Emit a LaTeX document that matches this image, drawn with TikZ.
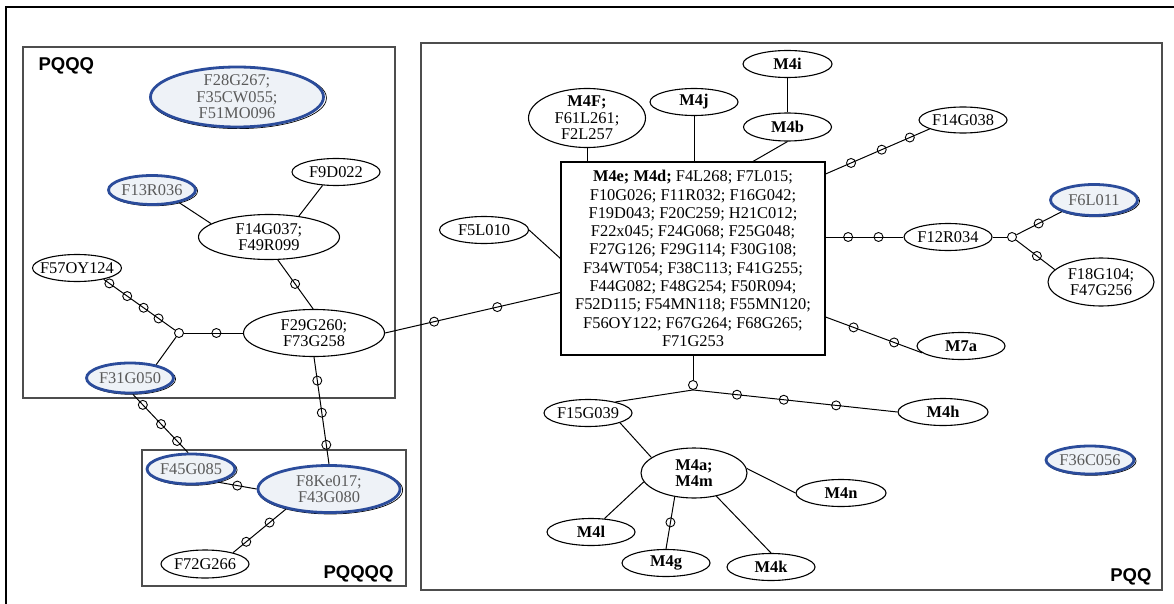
\documentclass[tikz,border=0pt]{standalone}
\usepackage{fontspec}
\setmainfont{Liberation Serif}
\newfontfamily\regionfont{Liberation Sans}
\usetikzlibrary{shapes.geometric,shadows}
\definecolor{hapblue}{HTML}{2B4C9B}
\definecolor{hapfill}{HTML}{EEF2F7}
\definecolor{haptext}{HTML}{5A5A5A}
\definecolor{regiongray}{HTML}{4D4D4D}

\begin{document}
\begin{tikzpicture}[x=1pt,y=-1pt,
    hap/.style={ellipse,draw,line width=1.1pt,inner xsep=-20pt,inner ysep=-10pt,minimum width=88pt,minimum height=27pt,align=center,font=\fontsize{16.4}{16.5}\selectfont},
    mhap/.style={hap,font=\fontsize{16.4}{16.5}\selectfont\bfseries},
    hapb/.style={hap,draw=hapblue,line width=2.8pt,fill=hapfill,text=haptext,drop shadow={fill=none,draw=black,opacity=1,line width=0.7pt,shadow xshift=1.2pt,shadow yshift=-1pt,shadow scale=1.02}},
    mut/.style={circle,draw,line width=0.9pt,minimum size=9pt,inner sep=0pt},
    link/.style={line width=1pt},
    region/.style={draw=regiongray,line width=1.3pt},
    tag/.style={font=\regionfont\fontsize{18.5}{20}\selectfont\bfseries}]
    \useasboundingbox (0,0) rectangle (1174,604);
    \draw[line width=2.4pt] (6,604) -- (6,7) -- (1174,7);
    \draw[region] (23,47) rectangle (395,398);
    \draw[region] (142,450) rectangle (406,586);
    \draw[region] (421,43) rectangle (1162,590);
    \node[tag,anchor=base west] (pqqq) at (35,70.5) {PQQQ};
    \node[tag,anchor=base east] (pqqqq) at (397,578) {PQQQQ};
    \node[tag,anchor=base east] (pqq) at (1155,581) {PQQ};

    \node[hapb,minimum width=173pt,minimum height=60pt] (f28) at (237,97) {F28G267;\\F35CW055;\\F51MO096};
    \node[hapb,minimum width=87pt,minimum height=29pt] (f13) at (152,190) {F13R036};
    \node[hap] (f9) at (336,172) {F9D022};
    \node[hap,minimum width=141pt,minimum height=45pt] (f14) at (269,237) {F14G037;\\F49R099};
    \node[hap,minimum width=89pt] (f57) at (77,268) {F57OY124};
    \node[mut] (j1) at (179,333) {};
    \node[hap,minimum width=141pt,minimum height=47pt] (f29) at (314,333) {F29G260;\\F73G258};
    \node[hapb,minimum width=87pt,minimum height=30pt] (f31) at (130,378) {F31G050};
    \node[hapb,minimum height=30pt] (f45) at (191,469) {F45G085};
    \node[hapb,minimum width=142pt,minimum height=47pt] (f8) at (329,489) {F8Ke017;\\F43G080};
    \node[hap,minimum height=28pt] (f72) at (205,564) {F72G266};

    \node[mhap,minimum width=89pt] (m4i) at (787.5,64) {M4i};
    \node[hap,minimum width=117pt,minimum height=59pt] (m4f) at (587,118) {\textbf{M4F;}\\F61L261;\\F2L257};
    \node[mhap] (m4j) at (694,102) {M4j};
    \node[mhap,minimum height=28pt] (m4b) at (787.5,127) {M4b};
    \node[draw,line width=1.1pt,minimum width=264pt,minimum height=193pt,align=center,font=\fontsize{16.4}{18.3}\selectfont] (core) at (693,258.5) {\textbf{M4e; M4d;} F4L268; F7L015;\\F10G026; F11R032; F16G042;\\F19D043; F20C259; H21C012;\\F22x045; F24G068; F25G048;\\F27G126; F29G114; F30G108;\\F34WT054; F38C113; F41G255;\\F44G082; F48G254; F50R094;\\F52D115; F54MN118; F55MN120;\\F56OY122; F67G264; F68G265;\\F71G253};
    \node[hap,minimum width=89pt] (f5) at (484,230) {F5L010};
    \node[hap,minimum height=26pt] (f14g) at (963,120) {F14G038};
    \node[hap] (f12) at (948,237) {F12R034};
    \node[mut] (j2) at (1012,237) {};
    \node[hapb,minimum width=87pt,minimum height=31pt] (f6) at (1094,200) {F6L011};
    \node[hap,minimum width=106pt,minimum height=48pt] (f18) at (1101,282) {F18G104;\\F47G256};
    \node[mhap] (m7a) at (961,346) {M7a};
    \node[mut] (j3) at (693,385) {};
    \node[hap] (f15) at (588,413) {F15G039};
    \node[mhap,minimum width=90pt] (m4h) at (943,412) {M4h};
    \node[mhap,minimum width=106pt,minimum height=50pt] (m4a) at (694,473) {M4a;\\M4m};
    \node[mhap,minimum width=90pt] (m4n) at (841,493) {M4n};
    \node[mhap] (m4l) at (591,532) {M4l};
    \node[mhap] (m4g) at (666,563) {M4g};
    \node[mhap] (m4k) at (771,567) {M4k};
    \node[hapb,minimum height=28pt] (f36) at (1090,460) {F36C056};

    \draw[link] (f13.-25) -- (f14.167);
    \draw[link] (f14.35) -- (f9.225);
    \draw[link] (f14.-69) -- node[mut,pos=.49]{} (f29.92);
    \draw[link] (f57.-23) -- node[mut,pos=.08]{} node[mut,pos=.33]{} node[mut,pos=.56]{} node[mut,pos=.77]{} (j1);
    \draw[link] (j1) -- node[mut,pos=.55]{} (f29);
    \draw[link] (j1) -- (f31.27);
    \draw[link] (f29.south) -- node[mut,pos=.22]{} node[mut,pos=.52]{} node[mut,pos=.82]{} (f8.north);
    \draw[link] (f29.east) -- node[mut,pos=.28]{} node[mut,pos=.64]{} ([yshift=-34pt]core.west);
    \draw[link] (f31.-80) -- node[mut,pos=.18]{} node[mut,pos=.51]{} node[mut,pos=.8]{} (f45.100);
    \draw[link] (f45.-26) -- node[mut,pos=.5]{} (f8.west);
    \draw[link] (f8.205) -- node[mut,pos=.31]{} node[mut,pos=.75]{} (f72.22);

    \draw[link] (m4i) -- (m4b);
    \draw[link] (m4f) -- (m4f |- core.north);
    \draw[link] (m4j) -- (m4j |- core.north);
    \draw[link] (m4b.south) -- ([xshift=60pt]core.north);
    \draw[link] (f5.east) -- (core.west);
    \draw[link] ([yshift=84.5pt]core.east) -- node[mut,pos=.245]{} node[mut,pos=.54]{} node[mut,pos=.81]{} (f14g.195);
    \draw[link] ([yshift=21.5pt]core.east) -- node[mut,pos=.29]{} node[mut,pos=.68]{} (f12);
    \draw[link] (f12) -- (j2);
    \draw[link] (j2) -- node[mut,pos=.49]{} (f6.200);
    \draw[link] (j2) -- node[mut,pos=.54]{} (f18.165);
    \draw[link] ([yshift=-58.5pt]core.east) -- node[mut,pos=.29]{} node[mut,pos=.71]{} (m7a.190);
    \draw[link] (core) -- (j3);
    \draw[link] (j3.south) -- (f15.22);
    \draw[link] (j3.south) -- node[mut,pos=.215]{} node[mut,pos=.444]{} node[mut,pos=.7]{} (m4h.west);
    \draw[link] (f15.-17) -- (m4a.160);
    \draw[link] (m4a.5) -- (m4n.west);
    \draw[link] (m4a.190) -- (m4l.45);
    \draw[link] (m4a.231) -- node[mut,pos=.49]{} (m4g.north);
    \draw[link] (m4a.-46) -- (m4k.north);
\end{tikzpicture}
\end{document}
